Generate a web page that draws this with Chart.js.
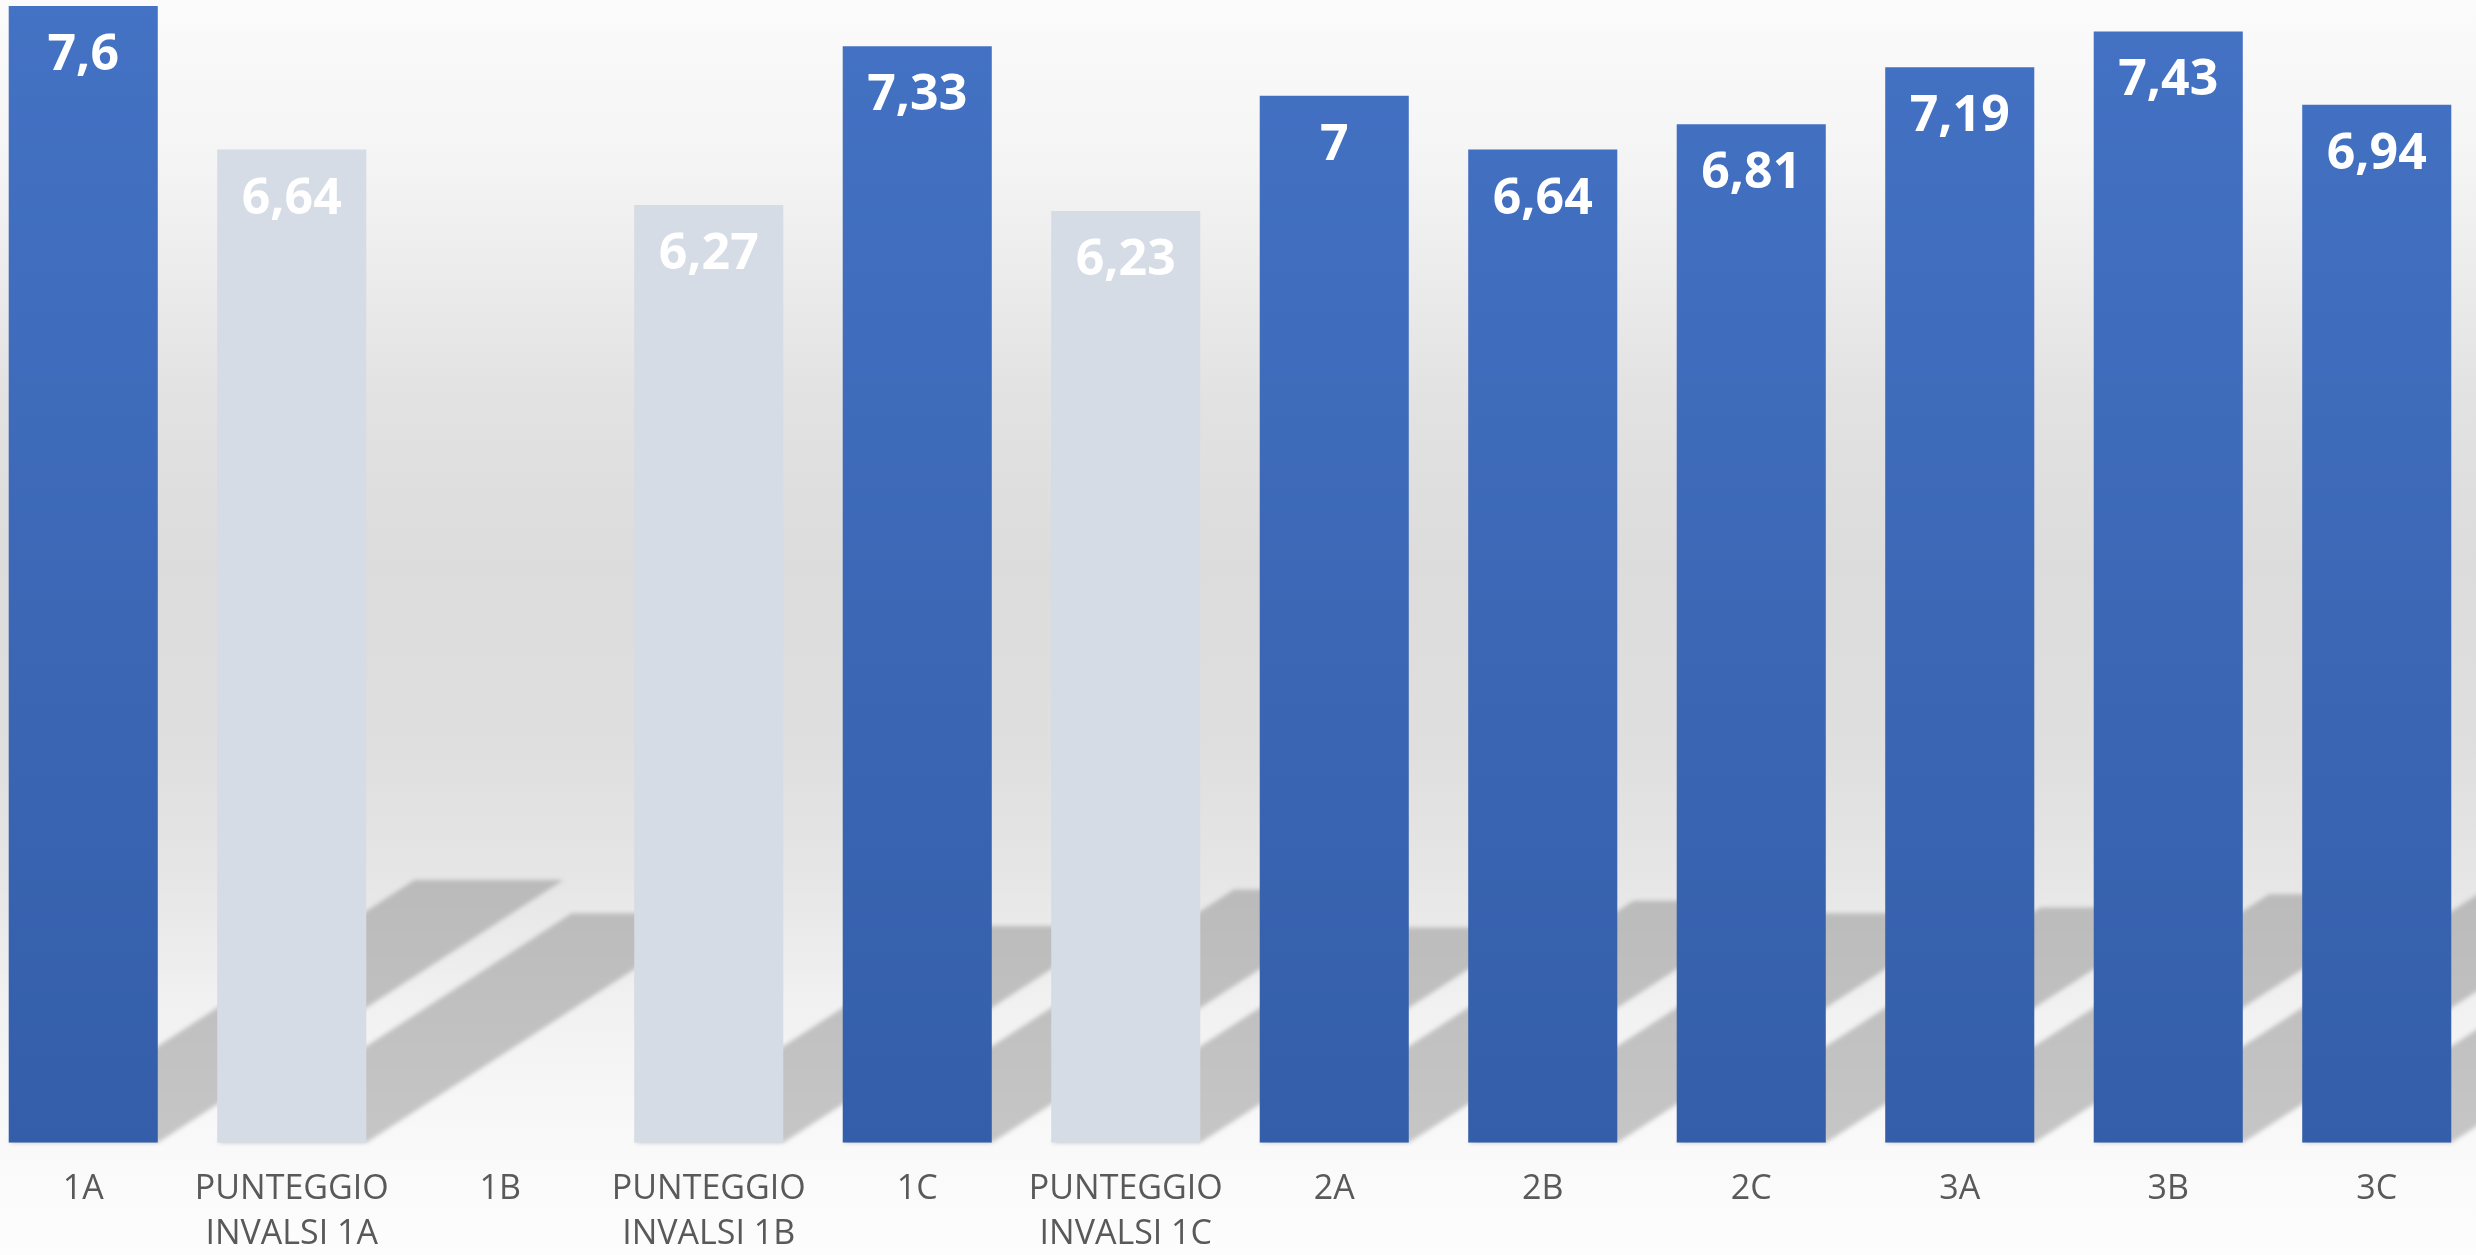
<!DOCTYPE html>
<html>
<head>
<meta charset="utf-8">
<script src="https://cdn.jsdelivr.net/npm/chart.js@4/dist/chart.umd.min.js"></script>
<style>
    html, body { margin: 0; padding: 0; background: #fcfcfc; overflow: hidden; }
    #grafico { position: absolute; left: -21px; top: 0; }
</style>
</head>
<body>
<canvas id="grafico" width="2502" height="1255"></canvas>
<script>
// ========= Dati =========
const classi = [
    '1A', ['PUNTEGGIO', 'INVALSI 1A'], '1B', ['PUNTEGGIO', 'INVALSI 1B'],
    '1C', ['PUNTEGGIO', 'INVALSI 1C'], '2A', '2B', '2C', '3A', '3B', '3C'
];
const medie = [7.6, 6.64, null, 6.27, 7.33, 6.23, 7, 6.64, 6.81, 7.19, 7.43, 6.94];
const isInvalsi = [false, true, false, true, false, true, false, false, false, false, false, false];

const BLU_ALTO = '#4472c4';
const BLU_BASSO = '#345ea9';
const GRIGIO_INVALSI = '#d6dce5';

// ========= Plugin: sfondo =========
const sfondo = {
    id: 'sfondo',
    beforeDraw(chart) {
        const { ctx, width, height } = chart;
        const g = ctx.createLinearGradient(0, 0, 0, height);
        g.addColorStop(0, '#fbfbfb');
        g.addColorStop(0.12, '#f5f5f5');
        g.addColorStop(0.32, '#e2e2e2');
        g.addColorStop(0.45, '#dcdcdc');
        g.addColorStop(0.6, '#dfdfdf');
        g.addColorStop(0.7, '#e6e6e6');
        g.addColorStop(0.8, '#f1f1f1');
        g.addColorStop(0.91, '#f9f9f9');
        g.addColorStop(1, '#fdfdfd');
        ctx.save();
        ctx.fillStyle = g;
        ctx.fillRect(0, 0, width, height);
        ctx.restore();
    }
};

// ========= Plugin: ombre delle barre =========
const ombre = {
    id: 'ombre',
    beforeDatasetsDraw(chart) {
        const ctx = chart.ctx;
        const meta = chart.getDatasetMeta(0);
        const base = chart.scales.y.getPixelForValue(0);
        const g = ctx.createLinearGradient(0, base - 270, 0, base);
        g.addColorStop(0, '#bababa');
        g.addColorStop(1, '#c6c6c6');
        ctx.save();
        ctx.filter = 'blur(2px)';
        ctx.fillStyle = g;
        meta.data.forEach((bar, i) => {
            if (medie[i] == null) return;
            const h = (bar.base - bar.y) * 0.231;
            const dx = h * 1.545;
            const l = bar.x - bar.width / 2;
            const r = bar.x + bar.width / 2;
            ctx.beginPath();
            ctx.moveTo(l, bar.base);
            ctx.lineTo(r, bar.base);
            ctx.lineTo(r + dx, bar.base - h);
            ctx.lineTo(l + dx, bar.base - h);
            ctx.closePath();
            ctx.fill();
        });
        ctx.restore();
    }
};

// ========= Plugin: etichette valori =========
const etichette = {
    id: 'etichette',
    afterDatasetsDraw(chart) {
        const ctx = chart.ctx;
        const meta = chart.getDatasetMeta(0);
        ctx.save();
        ctx.font = 'bold 50px "Open Sans"';
        ctx.fillStyle = '#ffffff';
        ctx.textAlign = 'center';
        ctx.textBaseline = 'alphabetic';
        meta.data.forEach((bar, i) => {
            if (medie[i] == null) return;
            const testo = String(medie[i]).replace('.', ',');
            ctx.fillText(testo, bar.x, bar.y + 64);
        });
        ctx.restore();
    }
};

// ========= Grafico =========
const ctxGrafico = document.getElementById('grafico').getContext('2d');
new Chart(ctxGrafico, {
    type: 'bar',
    data: {
        labels: classi,
        datasets: [{
            data: medie,
            backgroundColor: (c) => {
                if (isInvalsi[c.dataIndex]) return GRIGIO_INVALSI;
                const area = c.chart.chartArea;
                if (!area) return BLU_ALTO;
                const g = c.chart.ctx.createLinearGradient(0, area.top, 0, area.bottom);
                g.addColorStop(0, BLU_ALTO);
                g.addColorStop(1, BLU_BASSO);
                return g;
            },
            borderWidth: 0,
            categoryPercentage: 1,
            barPercentage: 0.715
        }]
    },
    plugins: [sfondo, ombre, etichette],
    options: {
        responsive: false,
        animation: false,
        devicePixelRatio: 1,
        layout: { padding: 0 },
        plugins: { legend: { display: false }, tooltip: { enabled: false } },
        scales: {
            x: {
                grid: { display: false, drawTicks: false },
                border: { display: false },
                ticks: {
                    color: '#595959',
                    font: { family: '"Open Sans"', size: 34, lineHeight: 1.32 },
                    padding: 24,
                    maxRotation: 0,
                    autoSkip: false
                },
                afterFit: (scale) => { scale.height = 112.3; }
            },
            y: {
                display: false,
                min: 0,
                max: 7.64
            }
        }
    }
});
</script>
</body>
</html>
